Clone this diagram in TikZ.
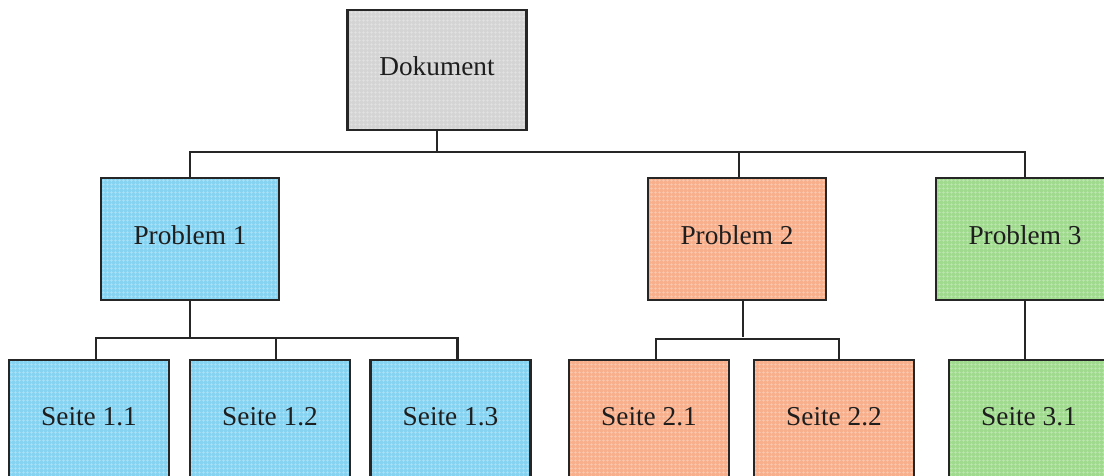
\documentclass[tikz,border=0pt]{standalone}
\usepackage{fontspec}
\setmainfont{Liberation Serif}
\usetikzlibrary{patterns.meta}
\definecolor{inkline}{HTML}{262626}
\definecolor{inktext}{HTML}{1E1E1E}
\definecolor{grayfill}{HTML}{D4D4D4}
\definecolor{bluefill}{HTML}{86D3F1}
\definecolor{orangefill}{HTML}{F8AF8C}
\definecolor{greenfill}{HTML}{A0DA8E}
\tikzset{
  x=1pt, y=-1pt,
  box/.style={draw=none, rectangle, inner sep=0pt,
    text=inktext, font=\fontsize{27.3}{31}\selectfont,
    text height=18.5pt, text depth=8pt, align=center,
    postaction={draw=none, pattern={Hatch[angle=0, distance=4pt, line width=0.6pt]}, pattern color=white, fill opacity=0.35},
    postaction={draw=inkline, line width=2.4pt}},
  topbox/.style={box, minimum width=179pt, minimum height=120pt},
  probbox/.style={box, minimum width=178pt, minimum height=122pt},
  pagebox/.style={box, minimum width=160pt, minimum height=120pt},
  link/.style={draw=inkline, line width=2.2pt},
}
\begin{document}
\begin{tikzpicture}
\useasboundingbox (0,0) rectangle (1104,476);
\clip (0,0) rectangle (1104,476);
% boxes
\node[topbox, fill=grayfill] (dok) at (437,70) {Dokument};
\node[probbox, fill=bluefill] (p1) at (190,239) {Problem 1};
\node[probbox, fill=orangefill] (p2) at (737,239) {Problem 2};
\node[probbox, fill=greenfill] (p3) at (1025,239) {Problem 3};
\node[pagebox, fill=bluefill] (s11) at (89,420) {Seite 1.1};
\node[pagebox, fill=bluefill] (s12) at (270,420) {Seite 1.2};
\node[pagebox, fill=bluefill] (s13) at (450.5,420) {Seite 1.3};
\node[pagebox, fill=orangefill] (s21) at (649,420) {Seite 2.1};
\node[pagebox, fill=orangefill] (s22) at (834,420) {Seite 2.2};
\node[pagebox, fill=greenfill] (s31) at (1029,420) {Seite 3.1};
% first level
\draw[link] (dok.south) -- ++(0,22);
\draw[link] (p1.north) -- ++(0,-26) -| (p3.north);
\draw[link] ([xshift=2pt]p2.north) -- ++(0,-26);
% second level, problem 1
\draw[link] (p1.south) -- ++(0,38);
\draw[link] ([xshift=7pt]s11.north) -- ++(0,-22) -| ([xshift=7pt]s13.north);
\draw[link] ([xshift=6pt]s12.north) -- ++(0,-22);
% second level, problem 2
\draw[link] ([xshift=6pt]p2.south) -- ++(0,37);
\draw[link] ([xshift=7pt]s21.north) -- ++(0,-21) -| ([xshift=5pt]s22.north);
% second level, problem 3
\draw[link] (p3.south) -- (p3.south |- s31.north);
\end{tikzpicture}
\end{document}
